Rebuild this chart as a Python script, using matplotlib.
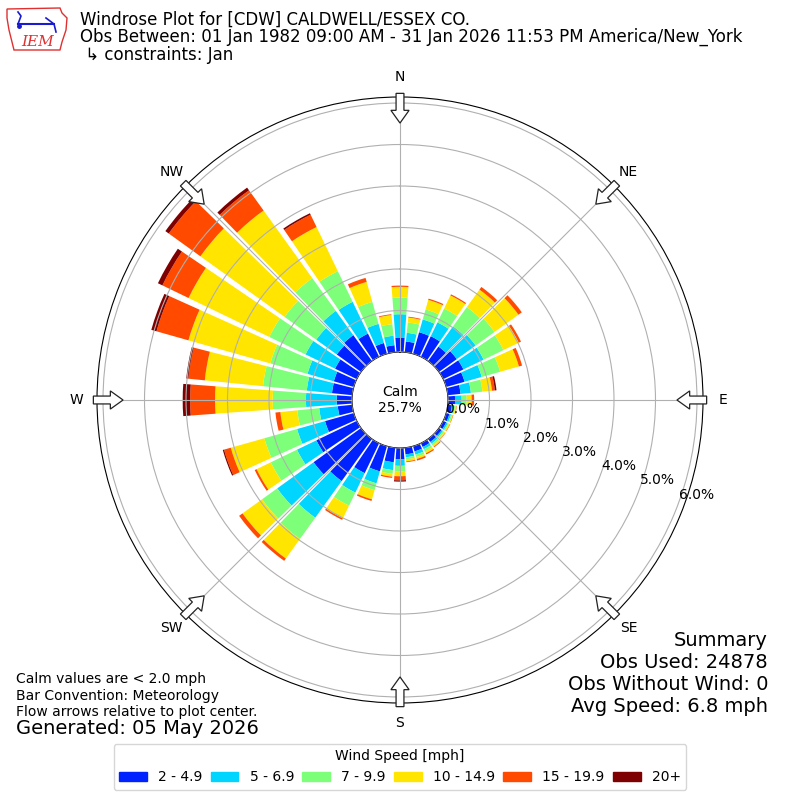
import numpy as np
import matplotlib
matplotlib.use("Agg")
import matplotlib.pyplot as plt
from matplotlib.patches import FancyArrow, Polygon, Patch

# wind directions (deg, meteorological), one bar every 10 degrees
directions = list(range(10, 370, 10))
speed_bins = ["2 - 4.9", "5 - 6.9", "7 - 9.9", "10 - 14.9", "15 - 19.9", "20+"]
bin_colors = ["#0022ff", "#00d5ff", "#7dff7a", "#ffe500", "#ff4a00", "#7f0000"]

pct_2_5 = [0.26, 0.54, 0.55, 0.43, 0.53, 0.54, 0.46, 0.31, 0.17, 0.10, 0.08, 0.08,
           0.08, 0.09, 0.10, 0.13, 0.16, 0.27, 0.35, 0.63, 0.80, 1.25, 1.41, 1.08,
           0.72, 0.35, 0.37, 0.49, 0.50, 0.58, 0.72, 0.77, 0.62, 0.27, 0.17, 0.35]
pct_5_7 = [0.21, 0.32, 0.37, 0.60, 0.56, 0.54, 0.43, 0.25, 0.16, 0.05, 0.04, 0.04,
           0.04, 0.05, 0.06, 0.08, 0.07, 0.16, 0.19, 0.30, 0.52, 1.09, 1.08, 0.52,
           0.70, 0.45, 0.74, 0.61, 0.66, 0.79, 0.61, 0.72, 0.85, 0.48, 0.23, 0.56]
pct_7_10 = [0.25, 0.25, 0.37, 0.57, 0.56, 0.53, 0.46, 0.28, 0.12, 0.03, 0.03, 0.03,
            0.04, 0.05, 0.06, 0.06, 0.05, 0.13, 0.09, 0.17, 0.35, 0.63, 0.45, 0.70,
            0.82, 0.53, 0.80, 1.06, 0.93, 0.97, 0.94, 0.97, 0.82, 0.55, 0.28, 0.40]
pct_10_15 = [0.12, 0.24, 0.35, 0.52, 0.71, 0.41, 0.47, 0.23, 0.12, 0.03, 0.02, 0.03,
             0.03, 0.04, 0.05, 0.05, 0.05, 0.12, 0.07, 0.23, 0.34, 0.58, 0.58, 0.38,
             0.84, 0.41, 1.39, 1.41, 2.05, 2.16, 2.50, 2.01, 1.18, 0.50, 0.22, 0.26]
pct_15_20 = [0.02, 0.03, 0.03, 0.08, 0.10, 0.06, 0.08, 0.07, 0.06, 0.01, 0.01, 0.01,
             0.01, 0.02, 0.03, 0.04, 0.02, 0.10, 0.03, 0.04, 0.04, 0.07, 0.10, 0.05,
             0.17, 0.12, 0.60, 0.40, 0.80, 0.70, 0.94, 0.60, 0.33, 0.10, 0.02, 0.03]
pct_20p = [0, 0, 0, 0, 0, 0, 0, 0.04, 0, 0, 0, 0,
           0, 0, 0, 0, 0, 0.03, 0, 0, 0, 0, 0, 0,
           0.03, 0, 0.18, 0.05, 0.13, 0.12, 0.10, 0.08, 0.04, 0, 0, 0]

calm_pct = 25.7
ring_ticks = [0, 1, 2, 3, 4, 5, 6]
compass = ["N", "NE", "E", "SE", "S", "SW", "W", "NW"]

fig = plt.figure(figsize=(8, 8), dpi=100)
ax = fig.add_axes([0.12125, 0.12125, 0.7575, 0.7575], projection="polar")
ax.set_theta_zero_location("N")
ax.set_theta_direction(-1)

theta = np.deg2rad(directions)
bottom = np.zeros(len(directions))
for vals, col, lab in zip([pct_2_5, pct_5_7, pct_7_10, pct_10_15, pct_15_20, pct_20p],
                          bin_colors, speed_bins):
    ax.bar(theta, vals, width=np.deg2rad(8.5), bottom=bottom, color=col,
           linewidth=0, label=lab, zorder=2)
    bottom = bottom + np.array(vals)

ax.set_rorigin(-1.157)
ax.set_ylim(0, 6.145)
ax.set_rticks(ring_ticks)
ax.set_yticklabels(["%.1f%%" % t for t in ring_ticks], fontsize=10)
ax.set_rlabel_position(110)
ax.set_thetagrids(np.arange(0, 360, 45), compass, fontsize=10)
ax.tick_params(axis="x", pad=4)
ax.set_axisbelow(False)
ax.grid(True, color="#b0b0b0", linewidth=0.8, zorder=3)

ax.text(0.5, 0.5, "Calm\n%.1f%%" % calm_pct, transform=ax.transAxes,
        ha="center", va="center", fontsize=10, zorder=5)

# flow arrows at the compass points
for ang in np.arange(0, 360, 45):
    a = np.deg2rad(ang)
    ux, uy = np.sin(a), np.cos(a)
    r0 = 0.506
    x0, y0 = 0.5 + r0 * ux, 0.5 + r0 * uy
    arr = FancyArrow(x0, y0, -0.049 * ux, -0.049 * uy, width=0.013,
                     head_width=0.03, head_length=0.021, length_includes_head=True,
                     transform=ax.transAxes, facecolor="white", edgecolor="#222222",
                     linewidth=0.9, clip_on=False, zorder=6)
    ax.add_patch(arr)

# header
fig.text(0.1, 1 - 20 / 800, "Windrose Plot for [CDW] CALDWELL/ESSEX CO.",
         fontsize=12, va="center")
fig.text(0.1, 1 - 37 / 800,
         "Obs Between: 01 Jan 1982 09:00 AM - 31 Jan 2026 11:53 PM America/New_York",
         fontsize=12, va="center")
fig.text(0.1, 1 - 55 / 800, " \u21b3 constraints: Jan", fontsize=12, va="center")

# IEM logo (rough)
lax = fig.add_axes([0.005, 0.935, 0.085, 0.06])
lax.set_xlim(0, 68)
lax.set_ylim(48, 0)
lax.axis("off")
lax.add_patch(Polygon([(3, 5), (56, 4), (58, 9), (63, 14), (62, 26), (58, 38),
                       (56, 46), (10, 46), (8, 38), (5, 26), (3, 14)],
                      closed=True, fill=False, edgecolor="#e03030", linewidth=1))
lax.plot([14, 50], [20, 20], color="#1a1ad0", lw=1.5)
lax.plot([14, 17, 14], [20, 12, 8], color="#1a1ad0", lw=1.2)
lax.plot([42, 50, 52], [14, 20, 28], color="#1a1ad0", lw=1.2)
lax.plot([15], [22], "o", color="#1a1ad0", ms=2.5)
lax.text(17, 38, "IEM", color="#e03030", fontsize=11, style="italic",
         family="DejaVu Serif", va="center", ha="left")

# notes
fig.text(16 / 800, 1 - 679 / 800, "Calm values are < 2.0 mph", fontsize=10, va="center")
fig.text(16 / 800, 1 - 696 / 800, "Bar Convention: Meteorology", fontsize=10, va="center")
fig.text(16 / 800, 1 - 712 / 800, "Flow arrows relative to plot center.", fontsize=10,
         va="center")
fig.text(16 / 800, 1 - 729 / 800, "Generated: 05 May 2026", fontsize=14, va="center")

summary = ["Summary", "Obs Used: 24878", "Obs Without Wind: 0", "Avg Speed: 6.8 mph"]
for i, s in enumerate(summary):
    fig.text(768 / 800, 1 - (640 + 22 * i) / 800, s, fontsize=14, ha="right",
             va="center")

handles = [Patch(color=c, label=l) for c, l in zip(bin_colors, speed_bins)]
fig.legend(handles=handles, loc="lower center", bbox_to_anchor=(0.5, 0.004),
           ncol=6, title="Wind Speed [mph]", fontsize=10, title_fontsize=10,
           columnspacing=0.6)

fig.savefig("out.png", dpi=100)
